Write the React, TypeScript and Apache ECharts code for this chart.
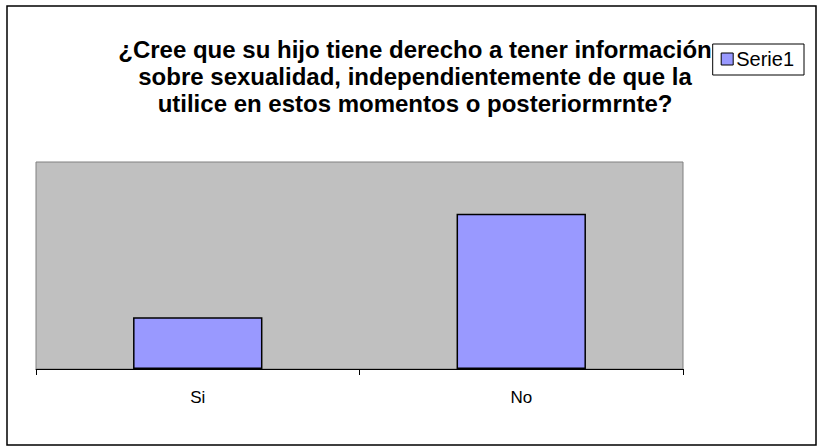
import React, { useEffect, useRef } from "react";
import * as echarts from "echarts";

const categories = ["Si", "No"];
const seriesName = "Serie1";
const values = [25, 75];
const titleLines = [
  "¿Cree que su hijo tiene derecho a tener información",
  "sobre sexualidad, independientemente de que la",
  "utilice en estos momentos o posteriormrnte?",
];

export default function App() {
  const ref = useRef<HTMLDivElement>(null);
  useEffect(() => {
    const chart = echarts.init(ref.current!, null, { renderer: "svg" });
    const font = "Arial, 'Liberation Sans', sans-serif";
    chart.setOption({
      animation: false,
      backgroundColor: "#ffffff",
      title: {
        text: titleLines.join("\n"),
        left: 410,
        textAlign: "center",
        top: 31,
        z: 2,
        textStyle: {
          fontFamily: font,
          fontSize: 24,
          fontWeight: "bold",
          color: "#000",
          lineHeight: 27,
        },
      },
      legend: {
        data: [seriesName],
        right: 14,
        top: 44,
        z: 10,
        orient: "vertical",
        backgroundColor: "#fff",
        borderColor: "#000",
        borderWidth: 1,
        borderRadius: 0,
        padding: [5, 10, 6, 8],
        itemWidth: 12,
        itemHeight: 12,
        itemGap: 4,
        icon: "rect",
        itemStyle: { borderColor: "#000", borderWidth: 1 },
        textStyle: { fontFamily: font, fontSize: 20, color: "#000", padding: [0, 0, 0, -2] },
      },
      grid: {
        left: 36,
        right: 135,
        top: 162,
        bottom: 77,
        show: true,
        backgroundColor: "#c0c0c0",
        borderColor: "#808080",
        borderWidth: 1,
      },
      xAxis: {
        type: "category",
        data: categories,
        axisLine: { lineStyle: { color: "#000", width: 1 } },
        axisTick: { show: true, length: 6, lineStyle: { color: "#000" } },
        axisLabel: { fontFamily: font, fontSize: 17, color: "#000", margin: 20 },
      },
      yAxis: {
        type: "value",
        min: 0,
        max: 100,
        axisLine: { show: false },
        axisTick: { show: false },
        axisLabel: { show: false },
        splitLine: { show: false },
      },
      series: [
        {
          name: seriesName,
          type: "bar",
          data: values,
          barCategoryGap: "60%",
          itemStyle: { color: "#9999ff", borderColor: "#000", borderWidth: 1.5 },
        },
      ],
      graphic: [
        {
          type: "rect",
          shape: { x: 7, y: 6, width: 809, height: 439 },
          style: { fill: "none", stroke: "#000", lineWidth: 1.5 },
          silent: true,
        },
      ],
    });
    return () => chart.dispose();
  }, []);
  return (
    <div
      ref={ref}
      style={{ position: "fixed", left: 0, top: 0, width: 818, height: 446 }}
    />
  );
}
